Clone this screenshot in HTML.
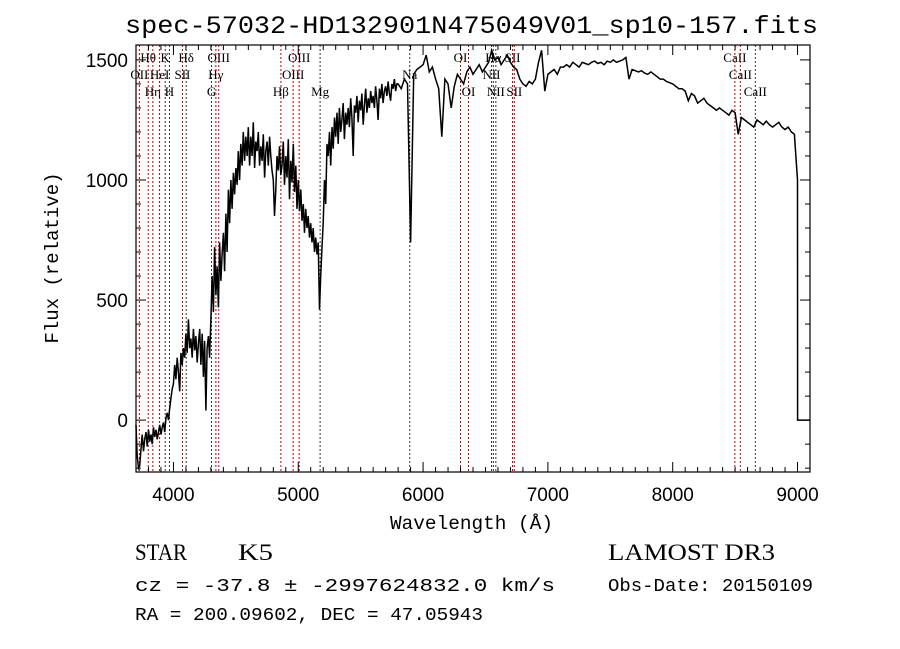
<!DOCTYPE html>
<html><head><meta charset="utf-8">
<style>
body{margin:0;background:#fff;width:900px;height:649px;overflow:hidden}
svg{display:block}
.t{font-family:"Liberation Sans",sans-serif}
.m{font-family:"Liberation Mono",monospace}
.s{font-family:"Liberation Serif",serif}
</style></head><body>
<svg id="chart" width="900" height="649" viewBox="0 0 900 649">
<text x="125" y="33" class="m" font-size="25" textLength="693" lengthAdjust="spacingAndGlyphs">spec-57032-HD132901N475049V01_sp10-157.fits</text>
<g id="lines"></g>
<g id="series"></g>
<rect x="136" y="45" width="674" height="427" fill="none" stroke="#000" stroke-width="1.2"/>
<g id="axes"></g>
<text x="390" y="529" class="m" font-size="19" textLength="163" lengthAdjust="spacingAndGlyphs">Wavelength (Å)</text>
<text transform="translate(58,258) rotate(-90)" text-anchor="middle" class="m" font-size="19">Flux (relative)</text>
<text x="135" y="560" class="s" font-size="23" textLength="52" lengthAdjust="spacingAndGlyphs">STAR</text>
<text x="238" y="560" class="s" font-size="23" textLength="35" lengthAdjust="spacingAndGlyphs">K5</text>
<text x="135" y="591" class="m" font-size="18" textLength="420" lengthAdjust="spacingAndGlyphs">cz = -37.8 ± -2997624832.0 km/s</text>
<text x="135" y="620" class="m" font-size="18" textLength="348" lengthAdjust="spacingAndGlyphs">RA = 200.09602, DEC =  47.05943</text>
<text x="608" y="560" class="s" font-size="23" textLength="167" lengthAdjust="spacingAndGlyphs">LAMOST DR3</text>
<text x="608" y="591" class="m" font-size="18" textLength="205" lengthAdjust="spacingAndGlyphs">Obs-Date: 20150109</text>
</svg>
<script>
const blueStart = 3700;
const blueStep = 10;
const blueFlux = [
-20,-150,-200,-190,-120,-60,-130,-80,-50,-110,
-40,-90,-60,-100,-30,-70,-40,-80,-50,-20,
-60,-30,-10,-50,10,30,0,50,90,130,
150,230,170,260,200,120,280,230,300,260,
360,280,420,300,340,260,380,290,350,240,
320,380,230,360,180,330,40,300,350,260,
420,600,450,720,520,640,470,740,580,690,
780,620,860,700,960,820,1000,880,1030,940,
1050,980,1120,1000,1150,1060,1200,1080,1180,1100,
1220,1060,1180,1100,1240,1050,1160,1120,1200,1060,
1140,1080,1190,1010,1120,1160,1060,1180,1100,1040,
1000,850,960,1100,1040,1140,1020,1060,1160,980,
1100,1010,1170,920,1080,990,1150,950,1060,880,
1000,870,960,830,900,780,880,800,850,760,
820,740,800,700,760,690,740,460,600,720,
820,1000,900,1150,1100,1200,1060,1220,1130,1260,
1180,1280,1150,1300,1200,1250,1320,1170,1280,1230,
1300,1220,1340,1260,1100,1310,1280,1350,1240,1330,
1290,1360,1230,1310,1380,1280,1340,1300,1370,1320,
1350,1300,1390,1330,1250,1380,1340,1400,1320,1370,
1390,1350,1410,1360,1330,1400,1380,1420,1370,1400];
const redStart = 5800;
const redStep = 25;
const redFlux = [1400,
1380,1420,1400,740,1440,1460,1470,1480,1520,1450,1470,1420,
1380,1180,1420,1400,1300,1390,1440,1420,1400,1450,1470,1440,
1460,1480,1450,1470,1490,1540,1500,1510,1480,1500,1520,1490,
1470,1460,1420,1400,1390,1410,1400,1420,1490,1540,1370,1440,
1450,1460,1440,1470,1470,1480,1470,1490,1480,1470,1490,1485,
1480,1490,1495,1485,1490,1480,1495,1490,1500,1490,1495,1500,
1510,1420,1460,1455,1450,1455,1445,1440,1450,1440,1430,1420,
1420,1410,1405,1400,1390,1380,1380,1370,1330,1360,1350,1320,
1330,1340,1320,1310,1300,1290,1300,1290,1280,1270,1290,1280,
1190,1260,1250,1240,1230,1220,1250,1240,1230,1245,1230,1220,
1230,1240,1220,1210,1220,1200,1190,1000];
const tailWave = [9001, 9100];
const tailFlux = [0, 0];
const lineWave = [3727,3798,3835,3889,3934,3968,4072,4102,4305,4340,4363,4861,4959,5007,5175,5893,6300,6364,6548,6563,6583,6717,6731,8498,8542,8662];
const lineName = ["OII","Hθ","Hη","HeI","K","H","SII","Hδ","G","Hγ","OIII","Hβ","OIII","OIII","Mg","Na","OI","OI","NII","Hα","NII","SII","SII","CaII","CaII","CaII"];
const lineRow = [1,0,2,1,0,2,1,0,2,1,0,2,1,0,2,1,0,2,1,0,2,0,2,0,1,2];
const lineAbs = [0,0,0,0,1,1,0,1,1,0,0,0,0,0,1,1,0,0,1,1,1,0,0,0,0,1];
const xTicks = [4000,5000,6000,7000,8000,9000];
const yTicks = [0,500,1000,1500];

const X0=136,X1=810,Y0=472,Y1=45,WMIN=3700,WMAX=9100,FMIN=-216,FMAX=1562;
const sx=w=>X0+(w-WMIN)/(WMAX-WMIN)*(X1-X0);
const sy=f=>Y0-(f-FMIN)/(FMAX-FMIN)*(Y0-Y1);
const NS="http://www.w3.org/2000/svg";
function mk(tag,attrs,parent){const e=document.createElementNS(NS,tag);for(const k in attrs)e.setAttribute(k,attrs[k]);parent.appendChild(e);return e;}

const lg=document.getElementById('lines');
lineWave.forEach((w,i)=>{
  const x=sx(w);
  const l=mk('line',{x1:x,x2:x,y1:Y1,y2:Y0,stroke:lineAbs[i]?'#333':'#c00000','stroke-width':1,'stroke-dasharray':'2,2'},lg);
  
  
  const t=mk('text',{x:x,y:62+lineRow[i]*17,'text-anchor':'middle','font-size':13,class:'s'},lg);
  t.textContent=lineName[i];
  
  
});

const sg=document.getElementById('series');
let pts=blueFlux.map((f,i)=>sx(blueStart+i*blueStep).toFixed(1)+','+sy(f).toFixed(1));
redFlux.forEach((f,i)=>pts.push(sx(redStart+i*redStep).toFixed(1)+','+sy(f).toFixed(1)));
tailWave.forEach((w,i)=>pts.push(sx(w).toFixed(1)+','+sy(tailFlux[i]).toFixed(1)));
const pl=mk('polyline',{points:pts.join(' '),fill:'none',stroke:'#000','stroke-width':1.5,'stroke-linejoin':'miter'},sg);



const ag=document.getElementById('axes');
for(let w=3700;w<=9100;w+=100){
  const x=sx(w);const major=w%1000===0;const len=major?10:5;
  mk('line',{x1:x,x2:x,y1:Y0,y2:Y0-len,stroke:'#000'},ag);
  mk('line',{x1:x,x2:x,y1:Y1,y2:Y1+len,stroke:'#000'},ag);
}
xTicks.forEach(w=>{
  const t=mk('text',{x:sx(w),y:Y0+29,'text-anchor':'middle','font-size':19,class:'t'},ag);
  t.textContent=w;
  
  
});
for(let f=-200;f<=1550;f+=100){
  const y=sy(f);const major=f%500===0;const len=major?10:5;
  mk('line',{x1:X0,x2:X0+len,y1:y,y2:y,stroke:'#000'},ag);
  mk('line',{x1:X1,x2:X1-len,y1:y,y2:y,stroke:'#000'},ag);
}
yTicks.forEach(f=>{
  const t=mk('text',{x:X0-8,y:sy(f)+7,'text-anchor':'end','font-size':19,class:'t'},ag);
  t.textContent=f;
  
  
});
</script>
</body></html>
